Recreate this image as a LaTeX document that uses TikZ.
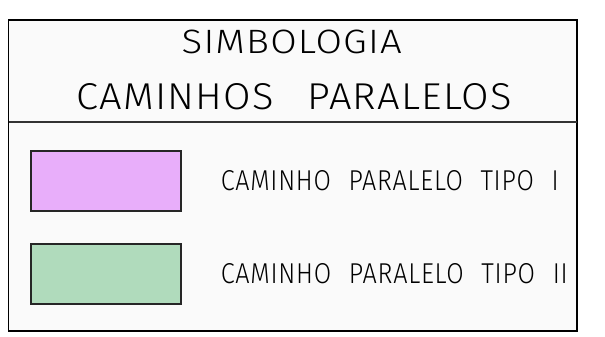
\documentclass[tikz,border=0pt]{standalone}
\usepackage{fontspec}
\setmainfont{Fira Sans Light}
\usetikzlibrary{positioning}

\definecolor{tipoum}{RGB}{232,174,250}
\definecolor{tipodois}{RGB}{176,219,188}
\definecolor{papel}{RGB}{250,250,250}

% fit a caps-only text to a given width and cap height
\newcommand{\encaixa}[3]{\resizebox{#1}{#2}{\addfontfeature{LetterSpace=3}#3}}
\newcommand{\vao}{\hspace{0.85em}}
\newcommand{\vaozinho}{\hspace{0.7em}}

\tikzstyle{swatch} = [rectangle, draw=black!85, line width=1.1pt, minimum width=150pt, minimum height=60pt, inner sep=0pt]
\tikzstyle{legend} = [anchor=west, inner sep=0pt, font=\fontsize{29}{30}\selectfont]
\tikzstyle{heading} = [inner sep=0pt, font=\fontsize{34}{36}\selectfont]

\begin{document}
\begin{tikzpicture}[x=1pt, y=-1pt, node distance = 39pt]
  \useasboundingbox (0,0) rectangle (605,337);

  % frame of the legend
  \draw[fill=papel, line width=1.8pt] (8.5,20) rectangle (577,331);
  \draw[line width=1.4pt, black!80] (8.5,122) -- (577,122);

  \node[heading] (titulo) at (291.7,41.7) {\encaixa{220pt}{23.5pt}{SIMBOLOGIA}};
  \node[heading] (subtitulo) at (294,96.7) {\encaixa{435pt}{26pt}{CAMINHOS\vao PARALELOS}};

  \node[swatch, fill=tipoum] (tipoI) at (106,181) {};
  \node[swatch, fill=tipodois] (tipoII) at (106,274) {};

  \node[legend, right = of tipoI] (rotuloI) {\encaixa{338pt}{20pt}{CAMINHO\vaozinho PARALELO\vaozinho TIPO\vaozinho I}};
  \node[legend, right = of tipoII] (rotuloII) {\encaixa{347pt}{20pt}{CAMINHO\vaozinho PARALELO\vaozinho TIPO\vaozinho II}};

\end{tikzpicture}
\end{document}
